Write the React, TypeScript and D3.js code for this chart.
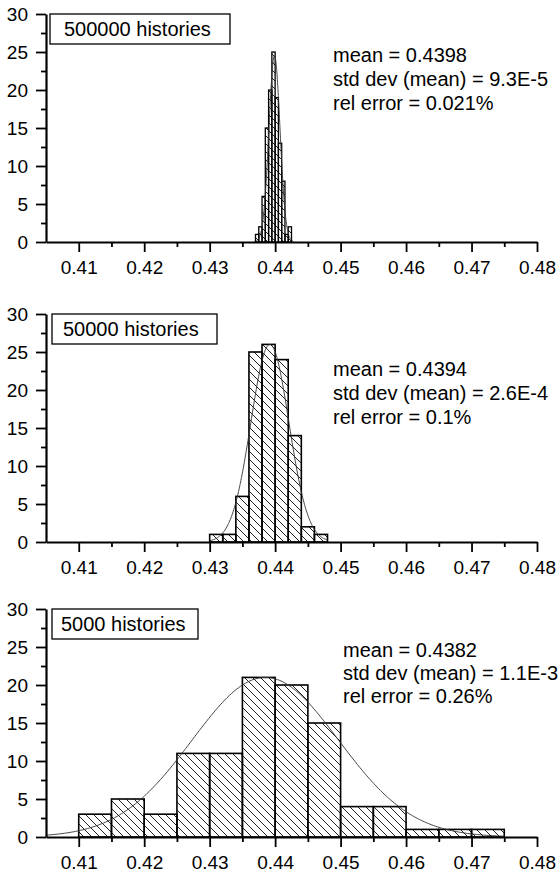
import React, { useRef, useEffect } from 'react';
import * as d3 from 'd3';

// histogram counts, one array per run size
const topCounts = [1, 2, 6, 15, 20, 25, 19, 13, 8, 1, 2];
const midCounts = [1, 1, 6, 25, 26, 24, 14, 2, 1];
const lowCounts = [3, 5, 3, 11, 11, 21, 20, 15, 4, 4, 1, 1, 1];

const binStarts = [0.437, 0.430, 0.410];
const binWidths = [0.0005, 0.002, 0.005];

const labels = ['500000 histories', '50000 histories', '5000 histories'];
const topStats = ['mean = 0.4398', 'std dev (mean) = 9.3E-5', 'rel error = 0.021%'];
const midStats = ['mean = 0.4394', 'std dev (mean) = 2.6E-4', 'rel error = 0.1%'];
const lowStats = ['mean = 0.4382', 'std dev (mean) = 1.1E-3', 'rel error = 0.26%'];

// gaussian fit drawn over each histogram
const fitCenters = [0.4399, 0.4392, 0.4385];
const fitSigmas = [0.00085, 0.0029, 0.0112];
const fitPeaks = [24.5, 26, 21];
const fitFrom = [0.4368, 0.4300, 0.405];
const fitTo = [0.4428, 0.4480, 0.475];

const xTicks = [0.41, 0.42, 0.43, 0.44, 0.45, 0.46, 0.47, 0.48];
const xMinorTicks = [0.415, 0.425, 0.435, 0.445, 0.455, 0.465, 0.475];
const yTicks = [0, 5, 10, 15, 20, 25, 30];
const yMinorTicks = [2.5, 7.5, 12.5, 17.5, 22.5, 27.5];

const FONT = '"Liberation Sans", Arial, sans-serif';

const App = () => {
    const ref = useRef<SVGSVGElement>(null);

    useEffect(() => {
        const svg = d3.select(ref.current);
        svg.selectAll('*').remove();

        const defs = svg.append('defs');
        const pat = defs.append('pattern')
            .attr('id', 'hatch')
            .attr('patternUnits', 'userSpaceOnUse')
            .attr('width', 8)
            .attr('height', 8);
        pat.append('path')
            .attr('d', 'M-2,-2 L10,10 M-2,6 L2,10 M6,-2 L10,2')
            .attr('stroke', '#222')
            .attr('stroke-width', 1);

        const counts = [topCounts, midCounts, lowCounts];
        const stats = [topStats, midStats, lowStats];
        const axisY = [242, 542, 837];
        const plotH = 228;
        const boxX = [50, 52, 52];
        const boxW = [180, 165, 146];
        const textX = [64, 63, 61];
        const statX = [333, 333, 343];
        const statY = [62, 376, 657];
        const statStep = [24, 24, 23];

        const x = d3.scaleLinear().domain([0.405, 0.48]).range([46, 537]);

        counts.forEach((data, p) => {
            const g = svg.append('g').attr('transform', 'translate(0,' + (axisY[p] - plotH) + ')');
            const y = d3.scaleLinear().domain([0, 30]).range([plotH, 0]);

            // bars
            const bins = data.map((c, i) => ({
                x0: binStarts[p] + i * binWidths[p],
                x1: binStarts[p] + (i + 1) * binWidths[p],
                c
            }));
            g.selectAll('.bar').data(bins).enter().append('rect')
                .attr('class', 'bar')
                .attr('x', d => x(d.x0))
                .attr('width', d => x(d.x1) - x(d.x0))
                .attr('y', d => y(d.c))
                .attr('height', d => y(0) - y(d.c))
                .attr('fill', 'url(#hatch)')
                .attr('stroke', '#000')
                .attr('stroke-width', p === 0 ? 1.3 : 1.6);

            // gaussian fit
            const xs = d3.range(0, 201).map(i => fitFrom[p] + (fitTo[p] - fitFrom[p]) * i / 200);
            const gauss = (v: number) => fitPeaks[p] * Math.exp(-((v - fitCenters[p]) ** 2) / (2 * fitSigmas[p] ** 2));
            g.append('path')
                .datum(xs)
                .attr('fill', 'none')
                .attr('stroke', '#333')
                .attr('stroke-width', 0.9)
                .attr('d', d3.line<number>().x(d => x(d)).y(d => y(gauss(d))));

            // axes
            const xAxis = g.append('g').attr('transform', 'translate(0,' + plotH + ')')
                .call(d3.axisBottom(x).tickValues(xTicks).tickSize(10).tickSizeOuter(0)
                    .tickPadding(9).tickFormat(d3.format('.2f')));
            g.append('g').attr('transform', 'translate(0,' + plotH + ')')
                .call(d3.axisBottom(x).tickValues(xMinorTicks).tickSize(5).tickSizeOuter(0).tickFormat(() => ''))
                .select('.domain').remove();
            const yAxis = g.append('g').attr('transform', 'translate(46,0)')
                .call(d3.axisLeft(y).tickValues(yTicks).tickSize(10).tickSizeOuter(0).tickPadding(8));
            g.append('g').attr('transform', 'translate(46,0)')
                .call(d3.axisLeft(y).tickValues(yMinorTicks).tickSize(5).tickSizeOuter(0).tickFormat(() => ''))
                .select('.domain').remove();

            g.selectAll('.domain').attr('stroke', '#000').attr('stroke-width', 2.2);
            g.selectAll('.tick line').attr('stroke', '#000').attr('stroke-width', 1.8);
            [xAxis, yAxis].forEach(a => a.selectAll('text')
                .attr('fill', '#000')
                .style('font-family', FONT)
                .style('font-size', '19px'));

            // label box
            svg.append('rect')
                .attr('x', boxX[p])
                .attr('y', axisY[p] - plotH)
                .attr('width', boxW[p])
                .attr('height', 30)
                .attr('fill', '#fff')
                .attr('stroke', '#000')
                .attr('stroke-width', 1.3);
            svg.append('text')
                .attr('x', textX[p])
                .attr('y', axisY[p] - plotH + 22)
                .style('font-family', FONT)
                .style('font-size', '20px')
                .text(labels[p]);

            // stats
            stats[p].forEach((s, i) => {
                svg.append('text')
                    .attr('x', statX[p])
                    .attr('y', statY[p] + i * statStep[p])
                    .style('font-family', FONT)
                    .style('font-size', '20px')
                    .text(s);
            });
        });
    }, []);

    return (
        <svg ref={ref} width={560} height={877}
            style={{ position: 'absolute', left: 0, top: 0, background: '#fff' }} />
    );
};

export default App;
